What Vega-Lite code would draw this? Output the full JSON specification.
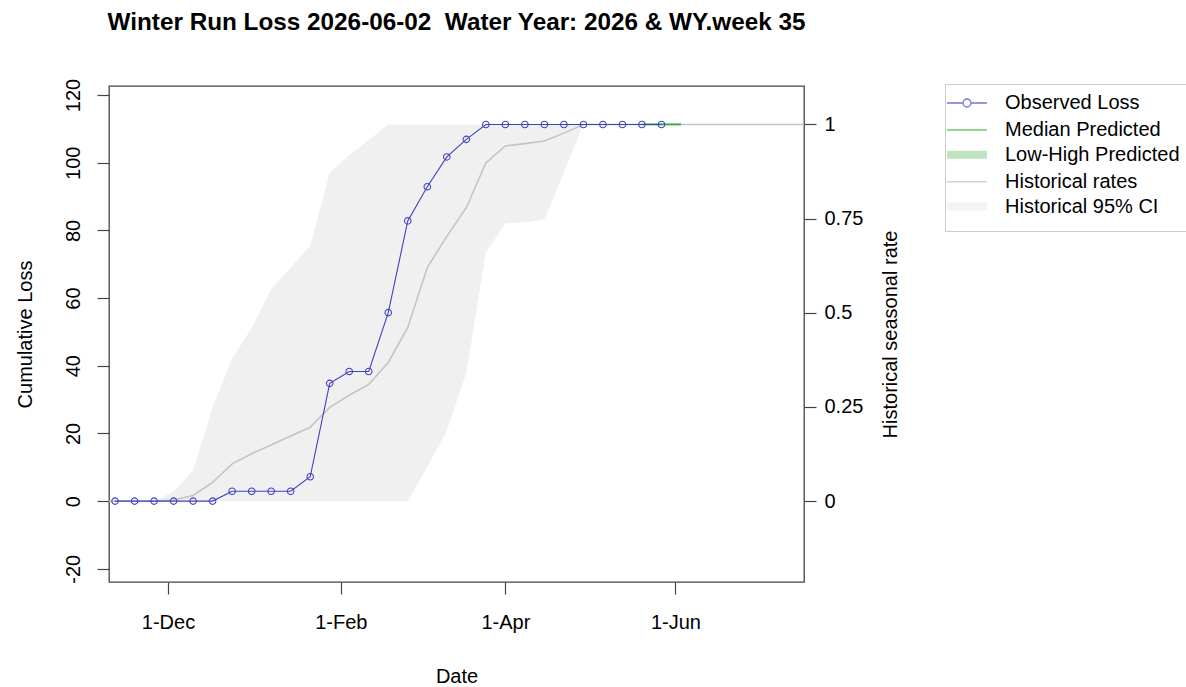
{
  "$schema": "https://vega.github.io/schema/vega-lite/v6.json",
  "width": 695,
  "height": 496,
  "autosize": {"type": "none"},
  "padding": {"left": 109, "top": 86, "right": 382, "bottom": 105},
  "background": "white",
  "config": {
    "font": "Liberation Sans",
    "view": {"stroke": "#444444", "strokeWidth": 1.3},
    "axis": {
      "grid": false,
      "domain": false,
      "tickColor": "#444444",
      "tickWidth": 1.2,
      "tickSize": 12,
      "labelFontSize": 20,
      "titleFontSize": 20,
      "titleFontWeight": "normal",
      "labelColor": "#000000",
      "titleColor": "#000000",
      "labelFont": "Liberation Sans",
      "titleFont": "Liberation Sans"
    }
  },
  "title": {
    "text": "Winter Run Loss 2026-06-02\u00a0 Water Year: 2026 & WY.week 35",
    "font": "Liberation Sans",
    "fontSize": 24.3,
    "fontWeight": "bold",
    "color": "#000000",
    "anchor": "middle",
    "frame": "group",
    "offset": 43
  },
  "datasets": {
    "observed": [
      {"date": "2025-11-12", "loss": 0},
      {"date": "2025-11-19", "loss": 0},
      {"date": "2025-11-26", "loss": 0},
      {"date": "2025-12-03", "loss": 0},
      {"date": "2025-12-10", "loss": 0},
      {"date": "2025-12-17", "loss": 0},
      {"date": "2025-12-24", "loss": 2.9},
      {"date": "2025-12-31", "loss": 2.9},
      {"date": "2026-01-07", "loss": 2.9},
      {"date": "2026-01-14", "loss": 2.9},
      {"date": "2026-01-21", "loss": 7.2},
      {"date": "2026-01-28", "loss": 34.8},
      {"date": "2026-02-04", "loss": 38.3},
      {"date": "2026-02-11", "loss": 38.3},
      {"date": "2026-02-18", "loss": 55.7},
      {"date": "2026-02-25", "loss": 82.8},
      {"date": "2026-03-04", "loss": 92.9},
      {"date": "2026-03-11", "loss": 101.7},
      {"date": "2026-03-18", "loss": 106.9},
      {"date": "2026-03-25", "loss": 111.3},
      {"date": "2026-04-01", "loss": 111.3},
      {"date": "2026-04-08", "loss": 111.3},
      {"date": "2026-04-15", "loss": 111.3},
      {"date": "2026-04-22", "loss": 111.3},
      {"date": "2026-04-29", "loss": 111.3},
      {"date": "2026-05-06", "loss": 111.3},
      {"date": "2026-05-13", "loss": 111.3},
      {"date": "2026-05-20", "loss": 111.3},
      {"date": "2026-05-27", "loss": 111.3}
    ],
    "predicted": [
      {"date": "2026-05-20", "median": 111.3, "low": 111.3, "high": 111.3},
      {"date": "2026-05-27", "median": 111.3, "low": 111.3, "high": 111.3},
      {"date": "2026-06-03", "median": 111.3, "low": 111.3, "high": 111.3}
    ],
    "historical": [
      {"date": "2025-10-01", "rate": 0, "lower": 0, "upper": 0},
      {"date": "2025-10-08", "rate": 0, "lower": 0, "upper": 0},
      {"date": "2025-10-15", "rate": 0, "lower": 0, "upper": 0},
      {"date": "2025-10-22", "rate": 0, "lower": 0, "upper": 0},
      {"date": "2025-10-29", "rate": 0, "lower": 0, "upper": 0},
      {"date": "2025-11-05", "rate": 0, "lower": 0, "upper": 0},
      {"date": "2025-11-12", "rate": 0, "lower": 0, "upper": 0},
      {"date": "2025-11-19", "rate": 0, "lower": 0, "upper": 0},
      {"date": "2025-11-26", "rate": 0, "lower": 0, "upper": 0},
      {"date": "2025-12-03", "rate": 0.003, "lower": 0, "upper": 0.025},
      {"date": "2025-12-10", "rate": 0.015, "lower": 0, "upper": 0.081},
      {"date": "2025-12-17", "rate": 0.05, "lower": 0, "upper": 0.249},
      {"date": "2025-12-24", "rate": 0.099, "lower": 0, "upper": 0.378},
      {"date": "2025-12-31", "rate": 0.126, "lower": 0, "upper": 0.46},
      {"date": "2026-01-07", "rate": 0.149, "lower": 0, "upper": 0.563},
      {"date": "2026-01-14", "rate": 0.173, "lower": 0, "upper": 0.62},
      {"date": "2026-01-21", "rate": 0.196, "lower": 0, "upper": 0.678},
      {"date": "2026-01-28", "rate": 0.249, "lower": 0, "upper": 0.872},
      {"date": "2026-02-04", "rate": 0.281, "lower": 0, "upper": 0.918},
      {"date": "2026-02-11", "rate": 0.31, "lower": 0, "upper": 0.959},
      {"date": "2026-02-18", "rate": 0.368, "lower": 0, "upper": 1.0},
      {"date": "2026-02-25", "rate": 0.461, "lower": 0, "upper": 1.0},
      {"date": "2026-03-04", "rate": 0.62, "lower": 0.092, "upper": 1.0},
      {"date": "2026-03-11", "rate": 0.703, "lower": 0.187, "upper": 1.0},
      {"date": "2026-03-18", "rate": 0.779, "lower": 0.34, "upper": 1.0},
      {"date": "2026-03-25", "rate": 0.898, "lower": 0.66, "upper": 1.0},
      {"date": "2026-04-01", "rate": 0.943, "lower": 0.737, "upper": 1.0},
      {"date": "2026-04-08", "rate": 0.949, "lower": 0.74, "upper": 1.0},
      {"date": "2026-04-15", "rate": 0.956, "lower": 0.748, "upper": 1.0},
      {"date": "2026-04-22", "rate": 0.977, "lower": 0.873, "upper": 1.0},
      {"date": "2026-04-29", "rate": 1.0, "lower": 1.0, "upper": 1.0},
      {"date": "2026-05-06", "rate": 1.0, "lower": 1.0, "upper": 1.0},
      {"date": "2026-05-13", "rate": 1.0, "lower": 1.0, "upper": 1.0},
      {"date": "2026-05-20", "rate": 1.0, "lower": 1.0, "upper": 1.0},
      {"date": "2026-05-27", "rate": 1.0, "lower": 1.0, "upper": 1.0},
      {"date": "2026-06-03", "rate": 1.0, "lower": 1.0, "upper": 1.0},
      {"date": "2026-06-10", "rate": 1.0, "lower": 1.0, "upper": 1.0},
      {"date": "2026-06-17", "rate": 1.0, "lower": 1.0, "upper": 1.0},
      {"date": "2026-06-24", "rate": 1.0, "lower": 1.0, "upper": 1.0},
      {"date": "2026-07-01", "rate": 1.0, "lower": 1.0, "upper": 1.0},
      {"date": "2026-07-08", "rate": 1.0, "lower": 1.0, "upper": 1.0},
      {"date": "2026-07-15", "rate": 1.0, "lower": 1.0, "upper": 1.0},
      {"date": "2026-07-22", "rate": 1.0, "lower": 1.0, "upper": 1.0},
      {"date": "2026-07-29", "rate": 1.0, "lower": 1.0, "upper": 1.0}
    ],
    "legendItems": [
      {"series": "Observed Loss"},
      {"series": "Median Predicted"},
      {"series": "Low-High Predicted"},
      {"series": "Historical rates"},
      {"series": "Historical 95% CI"}
    ]
  },
  "resolve": {"scale": {"y": "independent"}, "axis": {"y": "independent"}},
  "layer": [
    {
      "data": {"name": "historical"},
      "layer": [
        {
          "mark": {"type": "area", "color": "#F0F0F0", "clip": true},
          "encoding": {
            "x": {
              "field": "date", "type": "temporal",
              "scale": {"type": "utc", "domain": [{"year": 2025, "month": 11, "date": 9, "hours": 20, "utc": true}, {"year": 2026, "month": 7, "date": 17, "hours": 3, "utc": true}]},
              "axis": {
                "values": [{"year": 2025, "month": 12, "date": 1, "utc": true}, {"year": 2026, "month": 2, "date": 1, "utc": true}, {"year": 2026, "month": 4, "date": 1, "utc": true}, {"year": 2026, "month": 6, "date": 1, "utc": true}],
                "labelExpr": "utcFormat(datum.value, '%-d-%b')",
                "labelPadding": 18,
                "labelFlush": false,
                "title": "Date",
                "titleX": 347.5,
                "titleY": 94,
                "titleBaseline": "middle"
              }
            },
            "y": {
              "field": "upper", "type": "quantitative",
              "scale": {"domain": [-0.2147, 1.1021], "nice": false, "zero": false},
              "axis": {
                "orient": "right",
                "values": [0, 0.25, 0.5, 0.75, 1],
                "labelExpr": "'' + datum.value",
                "labelAngle": 0,
                "labelAlign": "left",
                "labelBaseline": "middle",
                "labelPadding": 8,
                "title": "Historical seasonal rate",
                "titleAngle": 270,
                "titleX": 86,
                "titleY": 248,
                "titleAlign": "center",
                "titleBaseline": "middle"
              }
            },
            "y2": {"field": "lower"}
          }
        },
        {
          "mark": {"type": "line", "color": "#C4C4C4", "strokeWidth": 1.6, "clip": true},
          "encoding": {
            "x": {"field": "date", "type": "temporal"},
            "y": {"field": "rate", "type": "quantitative"}
          }
        }
      ]
    },
    {
      "layer": [
        {
          "data": {"name": "predicted"},
          "mark": {"type": "line", "color": "#2EB02E", "strokeWidth": 1.8, "clip": true},
          "encoding": {
            "x": {"field": "date", "type": "temporal"},
            "y": {
              "field": "median", "type": "quantitative",
              "scale": {"domain": [-23.9, 122.66], "nice": false, "zero": false},
              "axis": {
                "orient": "left",
                "values": [-20, 0, 20, 40, 60, 80, 100, 120],
                "labelExpr": "'' + datum.value",
                "labelAngle": 270,
                "labelPadding": 14,
                "title": "Cumulative Loss",
                "titleAngle": 270,
                "titleX": -84,
                "titleY": 248,
                "titleAlign": "center",
                "titleBaseline": "middle"
              }
            }
          }
        },
        {
          "data": {"name": "observed"},
          "mark": {"type": "line", "color": "#4040C0", "strokeWidth": 1.1},
          "encoding": {
            "x": {"field": "date", "type": "temporal"},
            "y": {"field": "loss", "type": "quantitative"}
          }
        },
        {
          "data": {"name": "observed"},
          "mark": {"type": "point", "shape": "circle", "filled": false, "color": "#4040C0", "size": 42, "strokeWidth": 1.1, "opacity": 1},
          "encoding": {
            "x": {"field": "date", "type": "temporal"},
            "y": {"field": "loss", "type": "quantitative"}
          }
        },
        {
          "data": {"name": "legendItems"},
          "mark": {"type": "point", "filled": false},
          "encoding": {
            "x": {"field": "date", "type": "temporal"},
            "y": {"field": "loss", "type": "quantitative"},
            "color": {
              "field": "series", "type": "nominal",
              "scale": {"domain": ["Observed Loss", "Median Predicted", "Low-High Predicted", "Historical rates", "Historical 95% CI"], "range": ["#3A3AB8", "#2EB02E", "#A3DBA3", "#BEBEBE", "#EEEEEE"]},
              "legend": {"orient": "none", "legendX": 836, "legendY": -2, "title": null, "labelFontSize": 20, "labelLimit": 400, "symbolSize": 400, "labelOffset": 24, "rowPadding": -1.2, "padding": 8, "strokeColor": "#CCCCCC", "fillColor": "white", "labelColor": "#000000", "encode": {"symbols": {"update": {"strokeCap": {"value": "round"}}}}}
            },
            "shape": {
              "field": "series", "type": "nominal",
              "scale": {"domain": ["Observed Loss", "Median Predicted", "Low-High Predicted", "Historical rates", "Historical 95% CI"], "range": ["M0,-1.3M0,1.3M-2,0H-0.4M0.4,0H2M0.4,0A0.4,0.4,0,1,1,-0.4,0A0.4,0.4,0,1,1,0.4,0", "M-2,0H2", "M-2,0H2", "M-2,0H2", "M-2,0H2"]},
              "legend": {"orient": "none", "legendX": 836, "legendY": -2, "title": null, "labelFontSize": 20, "labelLimit": 400, "symbolSize": 400, "labelOffset": 24, "rowPadding": -1.2, "padding": 8, "strokeColor": "#CCCCCC", "fillColor": "white", "labelColor": "#000000"}
            },
            "strokeWidth": {
              "field": "series", "type": "nominal",
              "scale": {"type": "ordinal", "domain": ["Observed Loss", "Median Predicted", "Low-High Predicted", "Historical rates", "Historical 95% CI"], "range": [1.3, 1.6, 8, 1.6, 8]},
              "legend": {"orient": "none", "legendX": 836, "legendY": -2, "title": null, "labelFontSize": 20, "labelLimit": 400, "symbolSize": 400, "labelOffset": 24, "rowPadding": -1.2, "padding": 8, "strokeColor": "#CCCCCC", "fillColor": "white", "labelColor": "#000000"}
            }
          }
        }
      ]
    }
  ]
}
